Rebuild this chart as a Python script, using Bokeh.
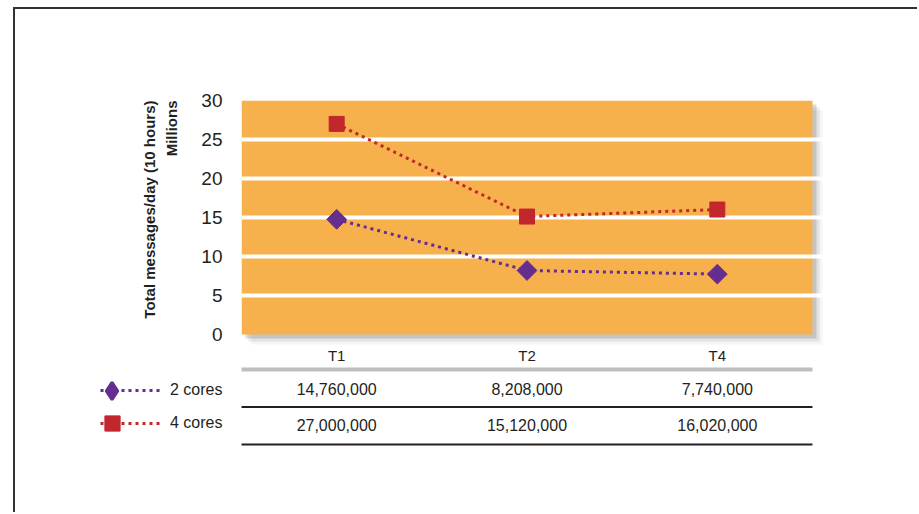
import math
from bokeh.plotting import figure
from bokeh.models import (Range1d, Legend, LegendItem, ColumnDataSource, Title,
                          BoxAnnotation)
from bokeh.layouts import column
from bokeh.embed import file_html
from bokeh.resources import INLINE
from bokeh.core.properties import value

# ---- data ----
categories = ["T1", "T2", "T4"]
series_names = ["2 cores", "4 cores"]
cores2 = [14760000, 8208000, 7740000]
cores4 = [27000000, 15120000, 16020000]
y_ticks = [0, 5, 10, 15, 20, 25, 30]
grid_ticks = [5, 10, 15, 20, 25]
y_title = "Total messages/day (10 hours)"
y_unit = "Millions"

ORANGE = "#F6B14D"
PURPLE = "#662D91"
RED = "#C1272D"
TEXT = "#231F20"
FONT = "Liberation Sans"

# layout (pixels)
W = 902
LEFT = 226
PLOT_W = 571          # width of the orange plot area
EXTRA = 12            # room for the drop shadow
RIGHT = W - LEFT - PLOT_W - EXTRA
CAT_W = PLOT_W / len(categories)
PLOT_H = 234
PX_Y = PLOT_H / 30.0

n = len(categories)
xs = [i + 0.5 for i in range(n)]
x_end = n + EXTRA / CAT_W

# ---- top chart ----
p = figure(width=W, height=91 + PLOT_H + EXTRA, x_range=Range1d(0, x_end),
           y_range=Range1d(-EXTRA / PX_Y, 30),
           output_backend="svg", toolbar_location=None,
           min_border_left=LEFT, min_border_right=RIGHT, min_border_top=91,
           min_border_bottom=0, x_axis_location=None)
p.background_fill_color = "white"
p.border_fill_color = "white"
p.outline_line_color = None
p.xgrid.visible = False
p.ygrid.grid_line_color = "white"
p.ygrid.grid_line_width = 4
p.ygrid.ticker = grid_ticks
p.ygrid.bounds = (0, 30)
ax = p.yaxis[0]
ax.ticker = y_ticks
ax.axis_line_color = None
ax.major_tick_line_color = None
ax.minor_tick_line_color = None
ax.major_tick_out = 0
ax.major_tick_in = 0
ax.major_label_text_font = FONT
ax.major_label_text_font_size = "19px"
ax.major_label_text_color = TEXT
ax.major_label_standoff = 19
ax.axis_label = " "
ax.axis_label_text_font_size = "1px"
ax.axis_label_standoff = 12

# drop shadow + orange plot area (behind the grid)
for off, alpha in [(10, 0.06), (7, 0.12), (4, 0.22)]:
    p.add_layout(BoxAnnotation(left=off / CAT_W, right=n + off / CAT_W,
                               bottom=-off / PX_Y, top=30 - off / PX_Y,
                               fill_color="#58595B", fill_alpha=alpha,
                               line_color=None, level="image"))
p.add_layout(BoxAnnotation(left=0, right=n, bottom=0, top=30, fill_color=ORANGE,
                           fill_alpha=1, line_color=None, level="image"))

src2 = ColumnDataSource(dict(x=xs, y=[v / 1e6 for v in cores2]))
src4 = ColumnDataSource(dict(x=xs, y=[v / 1e6 for v in cores4]))
p.line("x", "y", source=src4, line_color=RED, line_width=3, line_dash="3 4")
p.line("x", "y", source=src2, line_color=PURPLE, line_width=3, line_dash="3 4")
p.scatter("x", "y", source=src4, marker="square", size=15, fill_color=RED,
          line_color=RED)
p.scatter("x", "y", source=src2, marker="square", angle=math.pi / 4, size=14,
          fill_color=PURPLE, line_color=PURPLE)

p.add_layout(Title(text=y_unit, align="right", text_font=FONT,
                   text_font_size="15px", text_font_style="bold", text_color=TEXT,
                   standoff=5), "left")
p.add_layout(Title(text=y_title, align="right", text_font=FONT,
                   text_font_size="15px", text_font_style="bold", text_color=TEXT,
                   standoff=2), "left")

# ---- table below (same horizontal scale as the chart) ----
TH = 166
t = figure(width=W, height=TH, x_range=Range1d(-LEFT / CAT_W, x_end),
           y_range=Range1d(3.813, -0.613),
           output_backend="svg", toolbar_location=None,
           min_border_left=0, min_border_right=RIGHT, min_border_top=0,
           min_border_bottom=0, x_axis_location=None, y_axis_location=None)
t.outline_line_color = None
t.xgrid.visible = False
t.ygrid.visible = False
t.background_fill_color = "white"

t.text(x=xs, y=[-0.37] * n, text=categories,
       text_font=value(FONT), text_font_size="15px", text_color=TEXT,
       text_align="center", text_baseline="middle")
for row, vals in enumerate([cores2, cores4]):
    t.text(x=xs, y=[row + 0.53 - 0.06 * row] * n,
           text=[f"{v:,}" for v in vals], text_font=value(FONT),
           text_font_size="16px", text_color=TEXT, text_align="center",
           text_baseline="middle")

t.segment(x0=[0], x1=[n], y0=[0], y1=[0], line_color="#BCBEC0", line_width=4)
t.segment(x0=[0, 0], x1=[n] * 2, y0=[1, 2], y1=[1, 2], line_color=TEXT, line_width=2)

# legend renderers (series drawn in millions, outside this table's visible rows)
l2 = t.line(xs, [v / 1e6 for v in cores2], line_color=PURPLE, line_width=3,
            line_dash="3 4")
l4 = t.line(xs, [v / 1e6 for v in cores4], line_color=RED, line_width=3,
            line_dash="3 4")
m2 = t.scatter(xs, [v / 1e6 for v in cores2], marker="diamond", size=17,
               fill_color=PURPLE, line_color=PURPLE, line_width=3)
m4 = t.scatter(xs, [v / 1e6 for v in cores4], marker="square", size=15,
               fill_color=RED, line_color=RED)

common = dict(padding=0, margin=0, label_text_font=FONT, label_text_font_size="16px",
              label_text_color=TEXT, border_line_color=None, background_fill_alpha=0)
legA = Legend(items=[LegendItem(label=series_names[0], renderers=[l2]),
                     LegendItem(label=series_names[1], renderers=[l4])],
              location=(85, 79), spacing=13, glyph_height=20, label_height=20,
              glyph_width=60, label_standoff=10, **common)
legB1 = Legend(items=[LegendItem(label=" ", renderers=[m2])],
               location=(75, 100.5), glyph_width=43, glyph_height=43,
               label_height=20, label_standoff=0, **common)
legB2 = Legend(items=[LegendItem(label=" ", renderers=[m4])],
               location=(78, 70), glyph_width=38, glyph_height=38,
               label_height=20, label_standoff=0, **common)
t.add_layout(legA)
t.add_layout(legB1)
t.add_layout(legB2)

lay = column(p, column(t), spacing=0,
             styles={"border-top": "2px solid #333", "border-left": "2px solid #333",
                     "margin-left": "13px", "margin-top": "7px"})

open("out.html", "w").write(file_html(lay, INLINE))
